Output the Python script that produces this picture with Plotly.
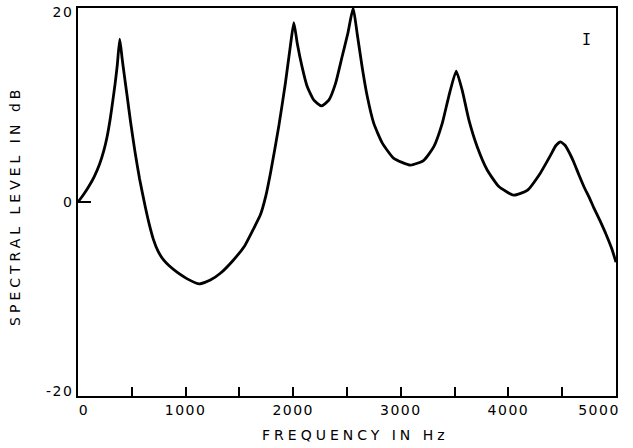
import plotly.graph_objects as go

# Spectral envelope: frequency (Hz) and level (dB)
freq_hz = [0, 50, 100, 150, 200, 240, 270, 300, 323, 345, 365, 388,
           410, 430, 457, 488, 528, 572, 627, 660, 702, 745, 797, 850, 917,
           1020, 1128, 1230, 1323, 1443, 1550, 1630, 1696, 1745, 1789,
           1866, 1928, 1975, 2006, 2037, 2083, 2130, 2192, 2263, 2331, 2393, 2455,
           2508, 2557, 2594, 2641, 2688, 2749, 2827, 2935, 3090, 3214, 3307, 3385,
           3446, 3515, 3571, 3632, 3710, 3803, 3911, 4050, 4175, 4298, 4391, 4440,
           4484, 4530, 4570, 4608, 4655, 4701, 4750, 4794, 4850, 4910, 4960, 5000]
level_db = [0.0, 0.75, 1.6, 2.6, 3.9, 5.3, 6.7, 8.6, 10.4, 12.2, 14.1, 16.8,
            14.8, 13.1, 10.9, 8.3, 5.3, 2.4, -0.6, -2.2, -3.9, -5.1, -6.0, -6.6, -7.2,
            -7.95, -8.45, -8.05, -7.35, -6.0, -4.5, -2.8, -1.3, 0.6, 3.0,
            7.8, 12.3, 16.2, 18.5, 16.4, 13.9, 11.9, 10.5, 9.9, 10.5, 12.2, 15.0,
            17.4, 20.0, 17.4, 13.9, 10.9, 8.1, 6.1, 4.5, 3.8, 4.3, 5.7, 8.1,
            10.9, 13.5, 11.5, 8.5, 5.7, 3.3, 1.6, 0.7, 1.2, 3.0, 4.8, 5.8,
            6.2, 5.8, 5.0, 4.1, 2.8, 1.6, 0.5, -0.6, -1.9, -3.4, -4.8, -6.2]

x_tick_vals = [0, 500, 1000, 1500, 2000, 2500, 3000, 3500, 4000, 4500, 5000]
x_tick_text = ["0", "", "1000", "", "2000", "", "3000", "", "4000", "", "5000"]
y_tick_vals = [-20, 0, 20]
y_tick_text = ["-20", "0", "20"]

FONT = "DejaVu Sans"

fig = go.Figure()
fig.add_trace(go.Scatter(
    x=freq_hz, y=level_db, mode="lines",
    line=dict(color="black", width=2.8, shape="spline", smoothing=0.5),
    hoverinfo="skip", showlegend=False,
))

axis_common = dict(
    showline=True, mirror=True, linecolor="black", linewidth=1.5,
    ticks="inside", tickcolor="black", tickwidth=1.5,
    showgrid=False, zeroline=False, automargin=False,
    ticklabeloverflow="allow",
    tickfont=dict(family=FONT, size=14, color="black"),
)

fig.update_xaxes(range=[0, 5000], tickvals=x_tick_vals, ticktext=x_tick_text,
                 ticklen=9, **axis_common)
fig.update_yaxes(range=[-20, 20], tickvals=y_tick_vals, ticktext=y_tick_text,
                 ticklen=13, **axis_common)

fig.add_annotation(text="FREQUENCY IN Hz", xref="paper", yref="paper",
                   x=0.515, y=-0.1, xanchor="center", yanchor="middle",
                   showarrow=False, font=dict(family=FONT, size=14, color="black"))
fig.add_annotation(text="SPECTRAL LEVEL IN dB", xref="paper", yref="paper",
                   x=-0.117, y=0.49, xanchor="center", yanchor="middle",
                   textangle=-90, showarrow=False,
                   font=dict(family=FONT, size=14, color="black"))
fig.add_annotation(text="I", xref="paper", yref="paper",
                   x=0.946, y=0.918, xanchor="center", yanchor="middle",
                   showarrow=False,
                   font=dict(family="DejaVu Sans Mono", size=15, color="black"))

fig.update_layout(
    width=633, height=448,
    margin=dict(l=78, r=17, t=8, b=52),
    paper_bgcolor="white", plot_bgcolor="white",
)

# Widen the lettering of titles and tick labels; pull the end labels inward
spacing_js = """
var gd = document.getElementById('{plot_id}');
gd.querySelectorAll('.annotation-text').forEach(function(t){
  if (t.textContent.length > 3) { t.style.letterSpacing = '4px'; }
});
function nudge(sel, label, dx, dy) {
  gd.querySelectorAll(sel).forEach(function(t){
    if (t.textContent === label) {
      var tr = t.getAttribute('transform') || '';
      t.setAttribute('transform', tr + ' translate(' + dx + ',' + dy + ')');
    }
  });
}
gd.querySelectorAll('.xtick text, .ytick text').forEach(function(t){
  t.style.letterSpacing = '1.5px';
});
nudge('.xtick text', '0', 6, 0);
nudge('.xtick text', '5000', -17, 0);
nudge('.ytick text', '20', 0, 4);
nudge('.ytick text', '-20', 0, -5);
"""

fig.write_html("out.html", post_script=spacing_js)
